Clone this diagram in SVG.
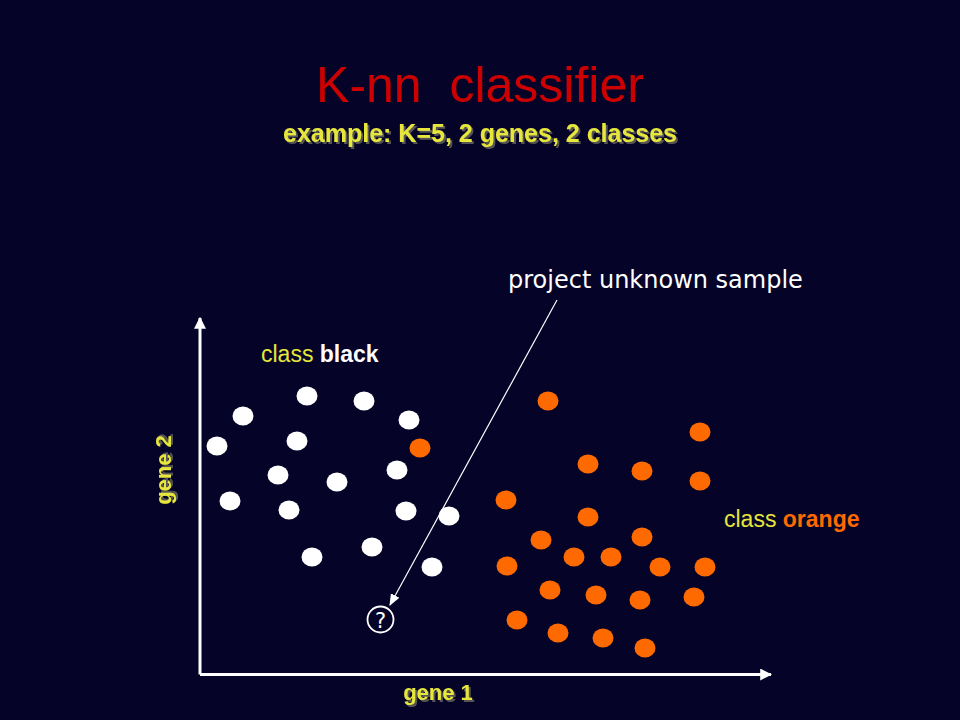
<svg xmlns="http://www.w3.org/2000/svg" width="960" height="720" viewBox="0 0 960 720">
<style>
.title{font-family:"Liberation Sans",Arial,sans-serif;font-size:50px;fill:#cc0000}
.sub{font-family:"Liberation Sans",Arial,sans-serif;font-size:25px;font-weight:bold;fill:#e6e63c;filter:url(#sh)}
.lbl{font-family:"Liberation Sans",Arial,sans-serif;font-size:23px}
.axis{font-family:"Liberation Sans",Arial,sans-serif;font-size:22px;font-weight:bold;fill:#e6e63c;filter:url(#sh)}
.comic{font-family:"DejaVu Sans",sans-serif;font-size:24px;fill:#ffffff}
.w{fill:#ffffff}
.o{fill:#ff6a00}
.ax{stroke:#ffffff;stroke-width:3;fill:none}
</style>
<defs>
<filter id="sh" x="-10%" y="-20%" width="120%" height="150%">
<feDropShadow dx="2" dy="2" stdDeviation="0.6" flood-color="#555555" flood-opacity="1"/>
</filter>
<marker id="ah" viewBox="0 0 10 10" refX="9" refY="5" markerWidth="4" markerHeight="4" orient="auto" markerUnits="strokeWidth">
<path d="M0,0 L10,5 L0,10 Z" fill="#ffffff"/>
</marker>
<marker id="ah2" viewBox="0 0 10 10" refX="9" refY="5" markerWidth="10" markerHeight="10" orient="auto" markerUnits="strokeWidth">
<path d="M0,1 L10,5 L0,9 Z" fill="#ffffff"/>
</marker>
</defs>
<rect x="0" y="0" width="960" height="720" fill="#050328"/>
<g id="title">
<text class="title" x="480" y="102" text-anchor="middle" xml:space="preserve">K-nn  classifier</text>
<text class="sub" x="480" y="142" text-anchor="middle">example: K=5, 2 genes, 2 classes</text>
</g>
<g id="connectors">
<path class="ax" d="M200,674.5 V318" marker-end="url(#ah)"/>
<path class="ax" d="M200,674.5 H771" marker-end="url(#ah)"/>
<line x1="557" y1="300" x2="390" y2="605" stroke="#ffffff" stroke-width="1.2" marker-end="url(#ah2)"/>
</g>
<g id="axis-labels">
<text class="axis" x="438" y="700" text-anchor="middle">gene 1</text>
<text class="axis" transform="translate(171,470) rotate(-90)" text-anchor="middle">gene 2</text>
</g>
<g id="label-project">
<text class="comic" x="508" y="288">project unknown sample</text>
</g>
<g id="label-black">
<text class="lbl" x="261" y="362"><tspan fill="#e6e63c">class </tspan><tspan fill="#ffffff" font-weight="bold">black</tspan></text>
</g>
<g id="label-orange">
<text class="lbl" x="724" y="527" font-size="23.8"><tspan fill="#e6e63c">class </tspan><tspan fill="#ff6a00" font-weight="bold">orange</tspan></text>
</g>
<g id="class-black">
<ellipse class="w" cx="307" cy="396" rx="10.5" ry="9.5"/>
<ellipse class="w" cx="364" cy="401" rx="10.5" ry="9.5"/>
<ellipse class="w" cx="243" cy="416" rx="10.5" ry="9.5"/>
<ellipse class="w" cx="409" cy="420" rx="10.5" ry="9.5"/>
<ellipse class="w" cx="217" cy="446" rx="10.5" ry="9.5"/>
<ellipse class="w" cx="297" cy="441" rx="10.5" ry="9.5"/>
<ellipse class="w" cx="397" cy="470" rx="10.5" ry="9.5"/>
<ellipse class="w" cx="278" cy="475" rx="10.5" ry="9.5"/>
<ellipse class="w" cx="337" cy="482" rx="10.5" ry="9.5"/>
<ellipse class="w" cx="230" cy="501" rx="10.5" ry="9.5"/>
<ellipse class="w" cx="289" cy="510" rx="10.5" ry="9.5"/>
<ellipse class="w" cx="406" cy="511" rx="10.5" ry="9.5"/>
<ellipse class="w" cx="449" cy="516" rx="10.5" ry="9.5"/>
<ellipse class="w" cx="372" cy="547" rx="10.5" ry="9.5"/>
<ellipse class="w" cx="312" cy="557" rx="10.5" ry="9.5"/>
<ellipse class="w" cx="432" cy="567" rx="10.5" ry="9.5"/>
</g>
<g id="class-orange">
<ellipse class="o" cx="420" cy="448" rx="10.5" ry="9.5"/>
<ellipse class="o" cx="548" cy="401" rx="10.5" ry="9.5"/>
<ellipse class="o" cx="700" cy="432" rx="10.5" ry="9.5"/>
<ellipse class="o" cx="588" cy="464" rx="10.5" ry="9.5"/>
<ellipse class="o" cx="642" cy="471" rx="10.5" ry="9.5"/>
<ellipse class="o" cx="700" cy="481" rx="10.5" ry="9.5"/>
<ellipse class="o" cx="506" cy="500" rx="10.5" ry="9.5"/>
<ellipse class="o" cx="588" cy="517" rx="10.5" ry="9.5"/>
<ellipse class="o" cx="541" cy="540" rx="10.5" ry="9.5"/>
<ellipse class="o" cx="642" cy="537" rx="10.5" ry="9.5"/>
<ellipse class="o" cx="574" cy="557" rx="10.5" ry="9.5"/>
<ellipse class="o" cx="611" cy="557" rx="10.5" ry="9.5"/>
<ellipse class="o" cx="507" cy="566" rx="10.5" ry="9.5"/>
<ellipse class="o" cx="660" cy="567" rx="10.5" ry="9.5"/>
<ellipse class="o" cx="705" cy="567" rx="10.5" ry="9.5"/>
<ellipse class="o" cx="550" cy="590" rx="10.5" ry="9.5"/>
<ellipse class="o" cx="596" cy="595" rx="10.5" ry="9.5"/>
<ellipse class="o" cx="640" cy="600" rx="10.5" ry="9.5"/>
<ellipse class="o" cx="694" cy="597" rx="10.5" ry="9.5"/>
<ellipse class="o" cx="517" cy="620" rx="10.5" ry="9.5"/>
<ellipse class="o" cx="558" cy="633" rx="10.5" ry="9.5"/>
<ellipse class="o" cx="603" cy="638" rx="10.5" ry="9.5"/>
<ellipse class="o" cx="645" cy="648" rx="10.5" ry="9.5"/>
</g>
<g id="unknown-sample">
<circle cx="380.5" cy="619.5" r="13" fill="none" stroke="#ffffff" stroke-width="1.8"/>
<text x="380.5" y="627.5" text-anchor="middle" font-family="DejaVu Sans,sans-serif" font-size="21" fill="#ffffff">?</text>
</g>
</svg>
